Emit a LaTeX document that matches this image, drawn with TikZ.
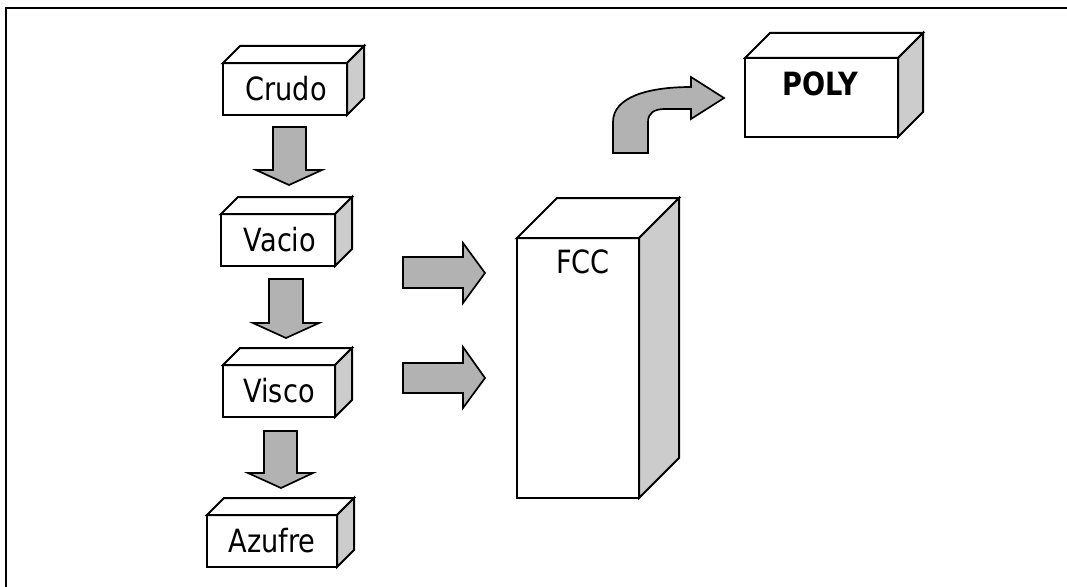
\documentclass[tikz,border=0pt]{standalone}
\usepackage{fontspec}
\newfontfamily\tah[FakeStretch=0.85]{DejaVu Sans}
\definecolor{sidegray}{RGB}{204,204,204}
\definecolor{arrowgray}{RGB}{178,178,178}
\newcommand{\cuboid}[6]{% name, x1, y1, x2, y2, depth
  \draw[boxline, fill=white] (#2,#3) rectangle (#4,#5);
  \draw[boxline, fill=white] (#2,#3) -- (#2+#6,#3-#6) -- (#4+#6,#3-#6) -- (#4,#3) -- cycle;
  \draw[boxline, fill=sidegray] (#4,#3) -- (#4+#6,#3-#6) -- (#4+#6,#5-#6) -- (#4,#5) -- cycle;
  \coordinate (#1-nw) at (#2,#3);
  \coordinate (#1-se) at (#4,#5);
}
\begin{document}
\begin{tikzpicture}[x=1pt,y=-1pt,
  boxline/.style={draw=black, line width=2pt, line join=miter},
  blockarrow/.style={draw=black, line width=1.7pt, fill=arrowgray, line join=miter},
  lbl/.style={font=\tah\fontsize{32}{35}\selectfont, inner sep=0pt},
  frame/.style={draw=black, line width=2.6pt}]
\useasboundingbox (0,0) rectangle (1067,586);
\draw[frame] (1070,8) -- (6,8) -- (6,590);

% boxes
\cuboid{crudo}{223}{63}{347}{115}{17}
\node[lbl] (tcrudo) at (286,89) {Crudo};
\cuboid{vacio}{221}{214}{335}{266}{17}
\node[lbl] (tvacio) at (280,240) {Vacio};
\cuboid{visco}{223}{365}{335}{417}{17}
\node[lbl] (tvisco) at (279,391) {Visco};
\cuboid{azufre}{207}{515}{337}{567}{17}
\node[lbl] (tazufre) at (272,541) {Azufre};
\cuboid{fcc}{517}{238}{639}{498}{40}
\node[lbl] (tfcc) at (583,262) {FCC};
\cuboid{poly}{745}{58}{898}{137}{25}
\node[lbl, font=\tah\bfseries\fontsize{32}{35}\selectfont] (tpoly) at (820,84) {POLY};

% down arrows
\draw[blockarrow] (273,127) -- (306,127) -- (306,170) -- (322,170) -- (289,185) -- (256,170) -- (273,170) -- cycle;
\draw[blockarrow] (269,279) -- (303,279) -- (303,323) -- (319,323) -- (286,338) -- (253,323) -- (269,323) -- cycle;
\draw[blockarrow] (264,431) -- (297,431) -- (297,473) -- (313,473) -- (281,488) -- (248,473) -- (264,473) -- cycle;

% right arrows
\draw[blockarrow] (403,257) -- (463,257) -- (463,243) -- (485,273) -- (463,303) -- (463,288) -- (403,288) -- cycle;
\draw[blockarrow] (403,363) -- (463,363) -- (463,347) -- (485,378) -- (463,408) -- (463,393) -- (403,393) -- cycle;

% curved arrow
\draw[blockarrow] (613,153) -- (613,122) .. controls (613,97) and (648,87) .. (691,87)
  -- (691,77) -- (724,98) -- (691,119) -- (691,109) -- (665,109)
  .. controls (654,109) and (648,113) .. (648,122) -- (648,153) -- cycle;
\end{tikzpicture}
\end{document}
